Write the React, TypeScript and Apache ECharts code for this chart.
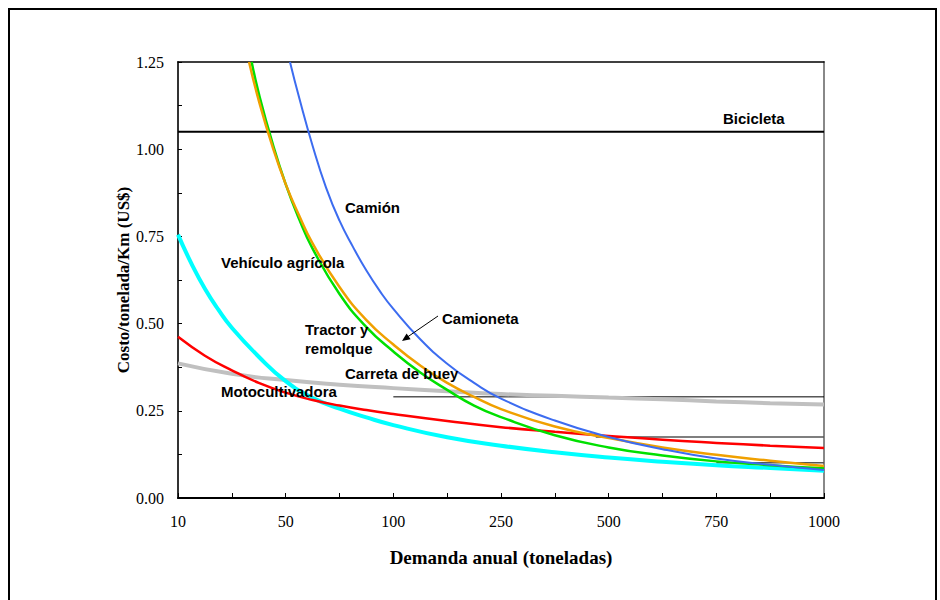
import React, { useEffect, useRef } from "react";
import * as echarts from "echarts";

// x positions are in axis-slot units: 0 → "10", 1 → "50", ... 6 → "1000"
const xTickLabels = ["10", "50", "100", "250", "500", "750", "1000"];

const bicicletaX = [0, 6];
const bicicletaY = [1.05, 1.05];

const camionX = [1.04, 1.125, 1.25, 1.375, 1.5, 1.625, 1.75, 1.875, 2, 2.25, 2.5, 2.75, 3, 3.5, 4, 4.5, 5, 5.5, 6];
const camionY = [1.25, 1.148, 1.01, 0.89, 0.795, 0.72, 0.652, 0.593, 0.542, 0.455, 0.385, 0.33, 0.285, 0.222, 0.175, 0.14, 0.113, 0.095, 0.08];

const camionetaX = [0.66, 0.75, 0.875, 1, 1.125, 1.25, 1.5, 1.75, 2, 2.25, 2.5, 2.75, 3, 3.5, 4, 4.5, 5, 5.5, 6];
const camionetaY = [1.25, 1.14, 1.01, 0.9, 0.81, 0.73, 0.605, 0.51, 0.44, 0.38, 0.33, 0.29, 0.255, 0.205, 0.172, 0.145, 0.124, 0.107, 0.092];

const tractorX = [0.684, 0.75, 0.875, 1, 1.125, 1.25, 1.5, 1.75, 2, 2.25, 2.5, 2.75, 3, 3.5, 4, 4.5, 5, 5.5, 6];
const tractorY = [1.25, 1.16, 1.02, 0.9, 0.8, 0.715, 0.585, 0.49, 0.42, 0.36, 0.31, 0.265, 0.232, 0.18, 0.145, 0.122, 0.105, 0.094, 0.085];

const vehiculoX = [0, 0.125, 0.25, 0.375, 0.5, 0.75, 1, 1.25, 1.5, 1.75, 2, 2.5, 3, 3.5, 4, 4.5, 5, 5.5, 6];
const vehiculoY = [0.755, 0.672, 0.6, 0.54, 0.488, 0.405, 0.335, 0.287, 0.256, 0.231, 0.209, 0.174, 0.15, 0.131, 0.116, 0.104, 0.094, 0.086, 0.078];

const motoX = [0, 0.25, 0.5, 0.75, 1, 1.25, 1.5, 1.75, 2, 2.5, 3, 3.5, 4, 4.5, 5, 5.5, 6];
const motoY = [0.462, 0.408, 0.366, 0.33, 0.302, 0.281, 0.265, 0.252, 0.241, 0.221, 0.203, 0.19, 0.178, 0.167, 0.158, 0.15, 0.143];

const carretaX = [0, 0.5, 1, 1.5, 2, 2.5, 3, 3.5, 4, 4.5, 5, 5.5, 6];
const carretaY = [0.386, 0.356, 0.338, 0.325, 0.315, 0.306, 0.298, 0.293, 0.288, 0.283, 0.277, 0.272, 0.268];

// thin reference lines
const ref1X = [2, 6];
const ref1Y = [0.29, 0.29];
const ref2X = [3.88, 6];
const ref2Y = [0.175, 0.175];
const ref3X = [5, 6];
const ref3Y = [0.101, 0.101];

const zip = (xs: number[], ys: number[]) => xs.map((x, i) => [x, ys[i]]);

const lineSeries = (
  name: string,
  xs: number[],
  ys: number[],
  color: string,
  width: number,
  smooth: boolean | number,
  z: number
) => ({
  name,
  type: "line",
  data: zip(xs, ys),
  showSymbol: false,
  symbol: "none",
  smooth,
  clip: true,
  z,
  lineStyle: { color, width },
  emphasis: { disabled: true },
});

const labelFont = {
  fontFamily: "Liberation Sans, Arial, sans-serif",
  fontWeight: "bold",
  fontSize: 15,
  fill: "#000",
};

const txt = (text: string, x: number, y: number) => ({
  type: "text",
  x,
  y,
  z: 100,
  style: { ...labelFont, text, textVerticalAlign: "middle" },
});

export default function App() {
  const ref = useRef<HTMLDivElement>(null);

  useEffect(() => {
    if (!ref.current) return;
    const chart = echarts.init(ref.current, undefined, { renderer: "svg" });
    const serif = "Liberation Serif, Times New Roman, serif";
    chart.setOption({
      animation: false,
      backgroundColor: "#fff",
      grid: { left: 178, top: 62, width: 646, height: 436, show: false },
      xAxis: [
        {
          type: "value",
          min: 0,
          max: 6,
          interval: 0.5,
          name: "Demanda anual (toneladas)",
          nameLocation: "middle",
          nameGap: 50,
          nameMoveOverlap: false,
          nameTextStyle: { fontFamily: serif, fontWeight: "bold", fontSize: 19, color: "#000" },
          axisLine: { show: true, onZero: false, lineStyle: { color: "#000", width: 2 } },
          axisTick: { show: true, inside: true, length: 5, lineStyle: { color: "#000", width: 1 } },
          axisLabel: {
            fontFamily: serif,
            fontSize: 16,
            color: "#000",
            margin: 15,
            formatter: (v: number) => (Number.isInteger(v) ? xTickLabels[v] : ""),
          },
          splitLine: { show: false },
        },
        {
          type: "value",
          position: "top",
          min: 0,
          max: 6,
          axisLine: { show: true, onZero: false, lineStyle: { color: "#000", width: 1.5 } },
          axisTick: { show: false },
          axisLabel: { show: false },
          splitLine: { show: false },
        },
      ],
      yAxis: [
        {
          type: "value",
          min: 0,
          max: 1.25,
          interval: 0.125,
          name: "Costo/tonelada/Km (US$)",
          nameLocation: "middle",
          nameGap: 46,
          nameMoveOverlap: false,
          nameRotate: 90,
          nameTextStyle: { fontFamily: serif, fontWeight: "bold", fontSize: 17, color: "#000" },
          axisLine: { show: true, onZero: false, lineStyle: { color: "#333", width: 2 } },
          axisTick: { show: true, inside: true, length: 4, lineStyle: { color: "#000", width: 1 } },
          axisLabel: {
            fontFamily: serif,
            fontSize: 16,
            color: "#000",
            margin: 14,
            formatter: (v: number) => (Math.round(v * 8) % 2 === 0 ? v.toFixed(2) : ""),
          },
          splitLine: { show: false },
        },
        {
          type: "value",
          position: "right",
          min: 0,
          max: 1.25,
          axisLine: { show: true, onZero: false, lineStyle: { color: "#888", width: 2 } },
          axisTick: { show: false },
          axisLabel: { show: false },
          splitLine: { show: false },
        },
      ],
      series: [
        lineSeries("ref1", ref1X, ref1Y, "#000", 1, false, 2),
        lineSeries("ref2", ref2X, ref2Y, "#555", 1.5, false, 2),
        lineSeries("ref3", ref3X, ref3Y, "#555", 1.5, false, 2),
        lineSeries("Bicicleta", bicicletaX, bicicletaY, "#000", 2, false, 3),
        lineSeries("Carreta de buey", carretaX, carretaY, "#c0c0c0", 4, 0.5, 4),
        lineSeries("Vehículo agrícola", vehiculoX, vehiculoY, "#00ffff", 4, 0.5, 5),
        lineSeries("Motocultivadora", motoX, motoY, "#ff0000", 2.5, 0.5, 6),
        lineSeries("Tractor y remolque", tractorX, tractorY, "#00e000", 2.5, 0.5, 7),
        lineSeries("Camioneta", camionetaX, camionetaY, "#f0a000", 2.5, 0.5, 8),
        lineSeries("Camión", camionX, camionY, "#3c6cf0", 2, 0.5, 9),
      ],
      graphic: [
        {
          type: "rect",
          shape: { x: 9, y: 9, width: 927, height: 600 },
          style: { fill: "none", stroke: "#000", lineWidth: 2 },
          z: 0,
          silent: true,
        },
        txt("Bicicleta", 723, 118),
        txt("Camión", 345, 207),
        txt("Vehículo agrícola", 221, 262),
        txt("Tractor y", 305, 329),
        txt("remolque", 305, 348),
        txt("Camioneta", 442, 318),
        txt("Carreta de buey", 345, 373),
        txt("Motocultivadora", 221, 391),
        {
          type: "line",
          z: 100,
          shape: { x1: 438, y1: 316, x2: 406, y2: 338 },
          style: { stroke: "#000", lineWidth: 1 },
        },
        {
          type: "polygon",
          z: 100,
          shape: { points: [[402, 341], [410.6, 339.3], [406.6, 333.6]] },
          style: { fill: "#000" },
        },
      ],
    });
    return () => chart.dispose();
  }, []);

  return (
    <div
      ref={ref}
      style={{ position: "fixed", left: 0, top: 0, width: 940, height: 600 }}
    />
  );
}
